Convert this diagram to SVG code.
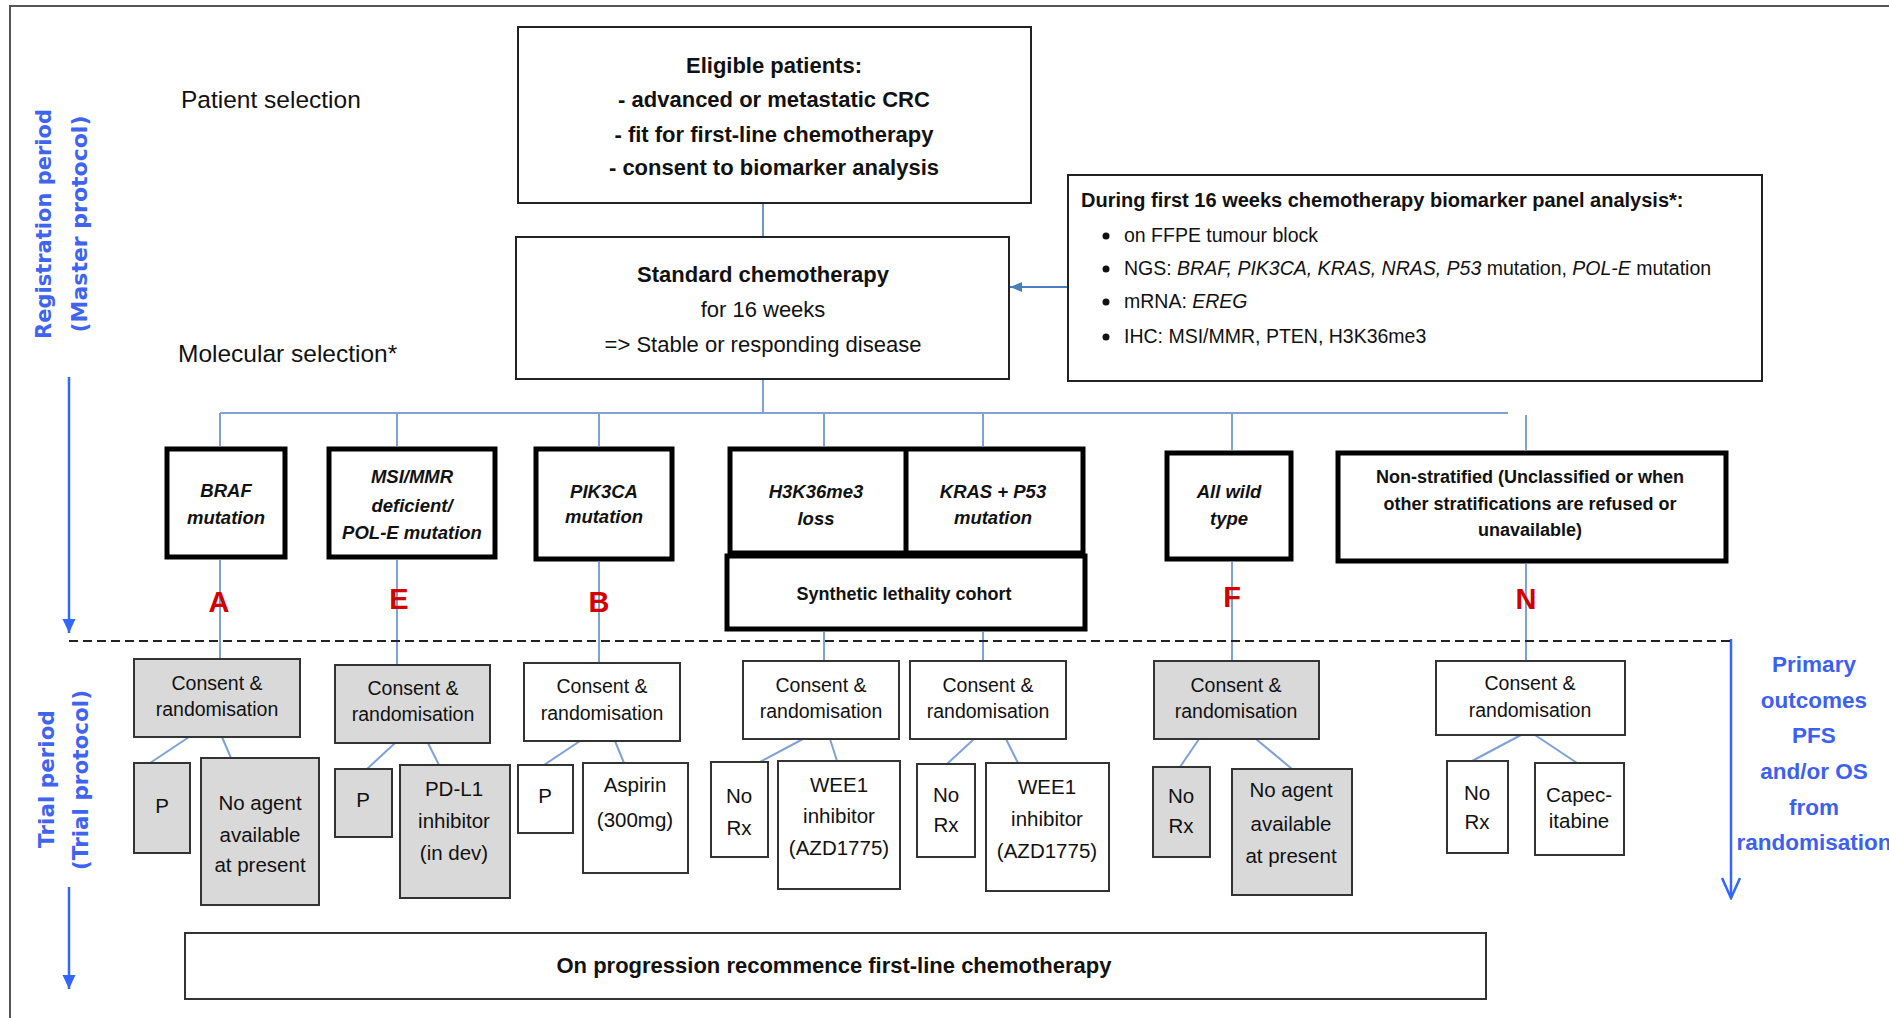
<svg xmlns="http://www.w3.org/2000/svg" width="1889" height="1018" viewBox="0 0 1889 1018">
<style>
.t{font-family:"Liberation Sans",Arial,sans-serif;fill:#111}
.m{text-anchor:middle}
.b{font-weight:bold}
.i{font-style:italic}
.f22{font-size:22px}
.f20{font-size:20px}
.f19{font-size:19.5px}
.f18{font-size:18.5px}
.fl{font-size:20.5px}
.box{fill:#fff;stroke:#222;stroke-width:2}
.thin{fill:#fff;stroke:#333;stroke-width:2}
.gray{fill:#d9d9d9}
.thick{fill:#fff;stroke:#000;stroke-width:5}
.conn{stroke:#7ea1d6;stroke-width:2;fill:none}
.dark{stroke:#4a7ebb;stroke-width:1.6;fill:none}
.red{font-family:"Liberation Sans",Arial,sans-serif;font-weight:bold;font-size:29px;fill:#d40000;text-anchor:middle}
.vert{font-family:"DejaVu Sans",Verdana,sans-serif;font-weight:bold;fill:#3f64f0;text-anchor:middle}
.blue{font-family:"Liberation Sans",Arial,sans-serif;font-weight:bold;font-size:22.5px;fill:#3d5ff2;text-anchor:middle}
</style>
<defs>
<marker id="arrFill" markerUnits="userSpaceOnUse" viewBox="0 0 14 14" refX="14" refY="7" markerWidth="14" markerHeight="14" orient="auto"><path d="M0,0.5 L14,7 L0,13.5 z" fill="#3366ff"/></marker>
<marker id="arrOpen" markerUnits="userSpaceOnUse" viewBox="-2 -2 24 22" refX="20" refY="9" markerWidth="24" markerHeight="22" orient="auto"><path d="M0,0 L20,9 L0,18" fill="none" stroke="#3366ff" stroke-width="2.5"/></marker>
<marker id="arrSmall" markerUnits="userSpaceOnUse" viewBox="0 0 12 10" refX="12" refY="5" markerWidth="12" markerHeight="10" orient="auto"><path d="M0,0 L12,5 L0,10 z" fill="#4a7ebb"/></marker>
</defs>
<rect width="1889" height="1018" fill="#fff"/>
<path d="M10,1018 V6 H1889" fill="none" stroke="#555" stroke-width="2"/>

<g id="side-labels">
<text class="vert" font-size="21" transform="translate(51,224) rotate(-90)">Registration period</text>
<text class="vert" font-size="22" transform="translate(87,224) rotate(-90)">(Master protocol)</text>
<text class="vert" font-size="21.5" transform="translate(54,779) rotate(-90)">Trial period</text>
<text class="vert" font-size="21.5" transform="translate(88,780) rotate(-90)">(Trial protocol)</text>
<text class="t" font-size="24.5" x="181" y="108">Patient selection</text>
<text class="t" font-size="24.5" x="178" y="362">Molecular  selection*</text>
<g class="blue">
<text x="1814" y="672">Primary</text>
<text x="1814" y="708">outcomes</text>
<text x="1814" y="743">PFS</text>
<text x="1814" y="779">and/or OS</text>
<text x="1814" y="815">from</text>
<text x="1814" y="850">randomisation</text>
</g>
</g>

<g id="connectors">
<path class="dark" d="M763,203 V237"/>
<path class="conn" d="M763,379 V413 M220,413 H1508 M220,413 V446 M397,413 V446 M599,413 V446 M824,413 V446 M983,413 V446 M1232,413 V450 M1526,415 V450"/>
<path class="conn" d="M220,560 V659 M397,560 V665 M599,562 V663 M824,632 V661 M983,632 V661 M1232,562 V661 M1526,564 V661"/>
<path class="conn" d="M189,737 L150,763 M222,737 L231,758 M395,743 L367,769 M428,743 L439,765 M580,741 L544,765 M615,741 L624,763 M803,739 L760,762 M830,739 L837,761 M974,739 L947,764 M1006,739 L1018,763 M1199,739 L1180,767 M1256,739 L1292,769 M1521,735 L1472,761 M1535,735 L1577,763"/>
<path d="M1068,287 H1010" stroke="#4a7ebb" stroke-width="2" fill="none" marker-end="url(#arrSmall)"/>
<path d="M69,377 V633" stroke="#3366ff" stroke-width="2.5" fill="none" marker-end="url(#arrFill)"/>
<path d="M69,887 V989" stroke="#3366ff" stroke-width="2.5" fill="none" marker-end="url(#arrFill)"/>
<path d="M1731,639 V898" stroke="#3366ff" stroke-width="2.5" fill="none" marker-end="url(#arrOpen)"/>
<path d="M69,641 H1731" stroke="#222" stroke-width="2" stroke-dasharray="9 5" fill="none"/>
</g>

<g id="cohort-letters">
<text class="red" x="219" y="612">A</text>
<text class="red" x="399" y="609">E</text>
<text class="red" x="599" y="612">B</text>
<text class="red" x="1047" y="605">C</text>
<text class="red" x="1232" y="607">F</text>
<text class="red" x="1526" y="609">N</text>
</g>

<g id="eligible">
<rect class="box" x="518" y="27" width="513" height="176"/>
<text class="t m b f22" x="774" y="73">Eligible patients:</text>
<text class="t m b f22" x="774" y="107">- advanced or metastatic CRC</text>
<text class="t m b f22" x="774" y="142">- fit for first-line chemotherapy</text>
<text class="t m b f22" x="774" y="175">- consent to biomarker analysis</text>
</g>

<g id="standard-chemo">
<rect class="box" x="516" y="237" width="493" height="142"/>
<text class="t m b f22" x="763" y="282">Standard chemotherapy</text>
<text class="t m f22" x="763" y="317">for 16 weeks</text>
<text class="t m f22" x="763" y="352">=&gt; Stable or responding disease</text>
</g>

<g id="biomarker-panel">
<rect class="box" x="1068" y="175" width="694" height="206"/>
<text class="t b f20" x="1081" y="207">During first 16 weeks chemotherapy biomarker panel analysis*:</text>
<circle cx="1106" cy="236" r="3.5" fill="#111"/>
<circle cx="1106" cy="269" r="3.5" fill="#111"/>
<circle cx="1106" cy="302" r="3.5" fill="#111"/>
<circle cx="1106" cy="337" r="3.5" fill="#111"/>
<text class="t f19" x="1124" y="242">on FFPE tumour block</text>
<text class="t f19" x="1124" y="275">NGS: <tspan class="i">BRAF, PIK3CA, KRAS, NRAS, P53</tspan> mutation,  <tspan class="i">POL-E</tspan> mutation</text>
<text class="t f19" x="1124" y="308">mRNA: <tspan class="i">EREG</tspan></text>
<text class="t f19" x="1124" y="343">IHC: MSI/MMR,  PTEN,  H3K36me3</text>
</g>

<g id="braf">
<rect class="thick gray" x="167" y="449" width="118" height="108"/>
<text class="t m b i f18" x="226" y="497">BRAF</text>
<text class="t m b i f18" x="226" y="524">mutation</text>
</g>
<g id="msi">
<rect class="thick gray" x="329" y="449" width="166" height="108"/>
<text class="t m b i f18" x="412" y="483">MSI/MMR</text>
<text class="t m b i f18" x="412" y="512">deficient/</text>
<text class="t m b i f18" x="412" y="539">POL-E mutation</text>
</g>
<g id="pik3ca">
<rect class="thick" x="536" y="449" width="136" height="110"/>
<text class="t m b i f18" x="604" y="498">PIK3CA</text>
<text class="t m b i f18" x="604" y="523">mutation</text>
</g>
<g id="h3k36-kras">
<rect class="thick" x="730" y="449" width="353" height="104"/>
<line x1="906" y1="449" x2="906" y2="553" stroke="#000" stroke-width="5"/>
<text class="t m b i f18" x="816" y="498">H3K36me3</text>
<text class="t m b i f18" x="816" y="525">loss</text>
<text class="t m b i f18" x="993" y="498">KRAS + P53</text>
<text class="t m b i f18" x="993" y="524">mutation</text>
</g>
<g id="synthetic">
<rect class="thick" x="727" y="556" width="358" height="73"/>
<text class="t m b" font-size="18" x="904" y="600">Synthetic lethality cohort</text>
</g>
<g id="wild">
<rect class="thick gray" x="1167" y="453" width="124" height="106"/>
<text class="t m b i f18" x="1229" y="498">All wild</text>
<text class="t m b i f18" x="1229" y="525">type</text>
</g>
<g id="nonstrat">
<rect class="thick" x="1338" y="453" width="388" height="108"/>
<text class="t m b" font-size="18" x="1530" y="483">Non-stratified (Unclassified or when</text>
<text class="t m b" font-size="18" x="1530" y="510">other stratifications are refused or</text>
<text class="t m b" font-size="18" x="1530" y="536">unavailable)</text>
</g>

<g id="consent-a">
<rect class="thin gray" x="134" y="659" width="166" height="78"/>
<text class="t m f19" x="217" y="690">Consent &amp;</text>
<text class="t m f19" x="217" y="716">randomisation</text>
</g>
<g id="consent-e">
<rect class="thin gray" x="335" y="665" width="155" height="78"/>
<text class="t m f19" x="413" y="695">Consent &amp;</text>
<text class="t m f19" x="413" y="721">randomisation</text>
</g>
<g id="consent-b">
<rect class="thin" x="524" y="663" width="156" height="78"/>
<text class="t m f19" x="602" y="693">Consent &amp;</text>
<text class="t m f19" x="602" y="720">randomisation</text>
</g>
<g id="consent-c1">
<rect class="thin" x="743" y="661" width="156" height="78"/>
<text class="t m f19" x="821" y="692">Consent &amp;</text>
<text class="t m f19" x="821" y="718">randomisation</text>
</g>
<g id="consent-c2">
<rect class="thin" x="910" y="661" width="156" height="78"/>
<text class="t m f19" x="988" y="692">Consent &amp;</text>
<text class="t m f19" x="988" y="718">randomisation</text>
</g>
<g id="consent-f">
<rect class="thin gray" x="1154" y="661" width="165" height="78"/>
<text class="t m f19" x="1236" y="692">Consent &amp;</text>
<text class="t m f19" x="1236" y="718">randomisation</text>
</g>
<g id="consent-n">
<rect class="thin" x="1436" y="661" width="189" height="74"/>
<text class="t m f19" x="1530" y="690">Consent &amp;</text>
<text class="t m f19" x="1530" y="717">randomisation</text>
</g>

<g id="a-p">
<rect class="thin gray" x="134" y="763" width="56" height="90"/>
<text class="t m fl" x="162" y="813">P</text>
</g>
<g id="a-noagent">
<rect class="thin gray" x="201" y="758" width="118" height="147"/>
<text class="t m fl" x="260" y="810">No agent</text>
<text class="t m fl" x="260" y="842">available</text>
<text class="t m fl" x="260" y="872">at present</text>
</g>
<g id="e-p">
<rect class="thin gray" x="335" y="769" width="57" height="68"/>
<text class="t m fl" x="363" y="807">P</text>
</g>
<g id="e-pdl1">
<rect class="thin gray" x="400" y="765" width="110" height="133"/>
<text class="t m fl" x="454" y="796">PD-L1</text>
<text class="t m fl" x="454" y="828">inhibitor</text>
<text class="t m fl" x="454" y="860">(in dev)</text>
</g>
<g id="b-p">
<rect class="thin" x="518" y="765" width="55" height="68"/>
<text class="t m fl" x="545" y="803">P</text>
</g>
<g id="b-aspirin">
<rect class="thin" x="583" y="763" width="105" height="110"/>
<text class="t m fl" x="635" y="792">Aspirin</text>
<text class="t m fl" x="635" y="827">(300mg)</text>
</g>
<g id="c1-norx">
<rect class="thin" x="711" y="762" width="57" height="95"/>
<text class="t m fl" x="739" y="803">No</text>
<text class="t m fl" x="739" y="835">Rx</text>
</g>
<g id="c1-wee1">
<rect class="thin" x="778" y="761" width="122" height="128"/>
<text class="t m fl" x="839" y="792">WEE1</text>
<text class="t m fl" x="839" y="823">inhibitor</text>
<text class="t m fl" x="839" y="855">(AZD1775)</text>
</g>
<g id="c2-norx">
<rect class="thin" x="917" y="764" width="58" height="93"/>
<text class="t m fl" x="946" y="802">No</text>
<text class="t m fl" x="946" y="832">Rx</text>
</g>
<g id="c2-wee1">
<rect class="thin" x="986" y="763" width="123" height="128"/>
<text class="t m fl" x="1047" y="794">WEE1</text>
<text class="t m fl" x="1047" y="826">inhibitor</text>
<text class="t m fl" x="1047" y="858">(AZD1775)</text>
</g>
<g id="f-norx">
<rect class="thin gray" x="1153" y="767" width="57" height="90"/>
<text class="t m fl" x="1181" y="803">No</text>
<text class="t m fl" x="1181" y="833">Rx</text>
</g>
<g id="f-noagent">
<rect class="thin gray" x="1232" y="769" width="120" height="126"/>
<text class="t m fl" x="1291" y="797">No agent</text>
<text class="t m fl" x="1291" y="831">available</text>
<text class="t m fl" x="1291" y="863">at present</text>
</g>
<g id="n-norx">
<rect class="thin" x="1447" y="761" width="61" height="92"/>
<text class="t m fl" x="1477" y="800">No</text>
<text class="t m fl" x="1477" y="829">Rx</text>
</g>
<g id="n-capec">
<rect class="thin" x="1535" y="763" width="89" height="92"/>
<text class="t m fl" x="1579" y="802">Capec-</text>
<text class="t m fl" x="1579" y="828">itabine</text>
</g>

<g id="progression">
<rect class="thin" x="185" y="933" width="1301" height="66"/>
<text class="t m b f22" x="834" y="973">On progression recommence first-line chemotherapy</text>
</g>
</svg>
